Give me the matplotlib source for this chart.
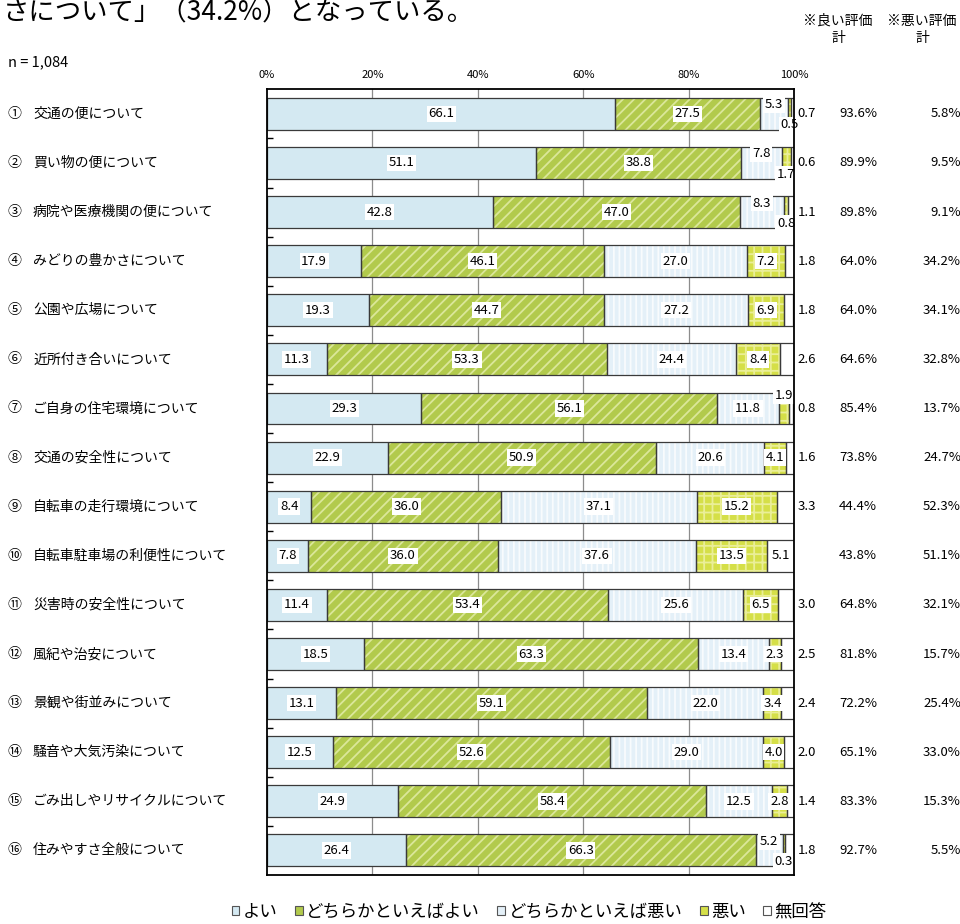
import numpy as np
import matplotlib
matplotlib.use("Agg")
import matplotlib.pyplot as plt
from matplotlib.patches import Patch
from matplotlib.transforms import blended_transform_factory

plt.rcParams['font.family'] = ['Noto Sans CJK JP', 'DejaVu Sans']
plt.rcParams['hatch.linewidth'] = 1.3

# data
numbers = ['①', '②', '③', '④', '⑤', '⑥', '⑦', '⑧',
           '⑨', '⑩', '⑪', '⑫', '⑬', '⑭', '⑮', '⑯']
categories = ['交通の便について', '買い物の便について', '病院や医療機関の便について',
              'みどりの豊かさについて', '公園や広場について', '近所付き合いについて',
              'ご自身の住宅環境について', '交通の安全性について', '自転車の走行環境について',
              '自転車駐車場の利便性について', '災害時の安全性について', '風紀や治安について',
              '景観や街並みについて', '騒音や大気汚染について', 'ごみ出しやリサイクルについて',
              '住みやすさ全般について']
good = [66.1, 51.1, 42.8, 17.9, 19.3, 11.3, 29.3, 22.9, 8.4, 7.8, 11.4, 18.5, 13.1, 12.5, 24.9, 26.4]
fair_good = [27.5, 38.8, 47.0, 46.1, 44.7, 53.3, 56.1, 50.9, 36.0, 36.0, 53.4, 63.3, 59.1, 52.6, 58.4, 66.3]
fair_bad = [5.3, 7.8, 8.3, 27.0, 27.2, 24.4, 11.8, 20.6, 37.1, 37.6, 25.6, 13.4, 22.0, 29.0, 12.5, 5.2]
bad = [0.5, 1.7, 0.8, 7.2, 6.9, 8.4, 1.9, 4.1, 15.2, 13.5, 6.5, 2.3, 3.4, 4.0, 2.8, 0.3]
no_answer = [0.7, 0.6, 1.1, 1.8, 1.8, 2.6, 0.8, 1.6, 3.3, 5.1, 3.0, 2.5, 2.4, 2.0, 1.4, 1.8]
good_total = [93.6, 89.9, 89.8, 64.0, 64.0, 64.6, 85.4, 73.8, 44.4, 43.8, 64.8, 81.8, 72.2, 65.1, 83.3, 92.7]
bad_total = [5.8, 9.5, 9.1, 34.2, 34.1, 32.8, 13.7, 24.7, 52.3, 51.1, 32.1, 15.7, 25.4, 33.0, 15.3, 5.5]
series_names = ['よい', 'どちらかといえばよい', 'どちらかといえば悪い', '悪い', '無回答']
x_ticks = [0, 20, 40, 60, 80, 100]

faces = ['#D4E9F2', '#B2CA4C', '#E4F0F8', '#D5DF48', '#FFFFFF']
hatches = [None, '///', '|||', '++', None]
hatch_cols = ['#D4E9F2', '#DBE79A', '#F8FBFD', '#EAEE98', '#FFFFFF']

W, H = 960, 924
def px(x):
    return x / W
def py(y):
    return 1 - y / H

fig = plt.figure(figsize=(W / 100, H / 100), dpi=100)
ax = fig.add_axes([px(267), py(875), px(794) - px(267), py(89.3) - py(875)])

n = len(categories)
y = np.arange(n) + 0.5
series = [good, fair_good, fair_bad, bad, no_answer]
bar_h = 0.65

for x in x_ticks[1:-1]:
    ax.axvline(x, color='#8C8C8C', lw=0.9, zorder=0)

# fill + hatch first, then the dark outlines on top
left = np.zeros(n)
for vals, fc, hc, ht in zip(series, faces, hatch_cols, hatches):
    vals = np.array(vals)
    ax.barh(y, vals, left=left, height=bar_h, color=fc, hatch=ht,
            edgecolor=hc, linewidth=0, zorder=2)
    ax.barh(y, vals, left=left, height=bar_h, fill=False,
            edgecolor='#3A3A3A', linewidth=0.9, zorder=3)
    left += vals

box = dict(facecolor='white', edgecolor='none', pad=1.2)
for i in range(n):
    segs = [s[i] for s in series]
    starts = np.concatenate([[0], np.cumsum(segs)[:-1]])
    for k in range(5):
        val = segs[k]
        cx = starts[k] + val / 2
        dy = 0
        dx = 0
        ha = 'center'
        if k == 2 and bad[i] < 2 and fair_bad[i] < 9:
            dy = 6.5
        if k == 3 and bad[i] < 2:
            dy = -8 if fair_bad[i] < 9 else 9
        if k == 4 and val < 5:
            cx = 100
            dx = 2.5
            ha = 'left'
        ax.annotate(f'{val:.1f}', (cx, y[i]), xytext=(dx, dy),
                    textcoords='offset points', ha=ha, va='center',
                    fontsize=9.5, bbox=box, zorder=5, annotation_clip=False)

ax.set_xlim(0, 100)
ax.set_ylim(n, 0)
ax.xaxis.tick_top()
ax.set_xticks(x_ticks)
ax.set_xticklabels([f'{t}%' for t in x_ticks], fontsize=8)
ax.tick_params(axis='x', length=0, pad=7)
ax.set_yticks(np.arange(1, n))
ax.tick_params(axis='y', direction='in', length=4, width=1, labelleft=False)
for sp in ax.spines.values():
    sp.set_linewidth(1.3)
    sp.set_color('black')
    sp.set_zorder(6)

# row labels and totals
tr = blended_transform_factory(fig.transFigure, ax.transData)
for i in range(n):
    fig.text(px(8), y[i], numbers[i], transform=tr, ha='left', va='center', fontsize=10)
    fig.text(px(33), y[i], categories[i], transform=tr, ha='left', va='center', fontsize=10)
    fig.text(px(839), y[i], f'{good_total[i]:.1f}%', transform=tr, ha='left', va='center', fontsize=9.5)
    fig.text(px(961), y[i], f'{bad_total[i]:.1f}%', transform=tr, ha='right', va='center', fontsize=9.5)

fig.text(px(838), py(21), '※良い評価', ha='center', va='center', fontsize=10)
fig.text(px(838), py(38), '計', ha='center', va='center', fontsize=10)
fig.text(px(922), py(21), '※悪い評価', ha='center', va='center', fontsize=10)
fig.text(px(922), py(38), '計', ha='center', va='center', fontsize=10)
fig.text(px(8), py(62), 'n = 1,084', ha='left', va='center', fontsize=10.5)

# tail of a sentence from the surrounding document
fig.text(px(3), py(13), 'さについて」（34.2%）となっている。', ha='left',
         va='center', fontsize=19)

handles = [Patch(facecolor=fc, edgecolor='#555555', linewidth=0.8) for fc in faces]
fig.legend(handles, series_names, loc='center', bbox_to_anchor=(px(529), py(912)),
           ncol=5, frameon=False, handlelength=0.45, handleheight=0.45,
           handletextpad=0.2, columnspacing=1.0, fontsize=12.5)

fig.savefig('out.png', dpi=100)
